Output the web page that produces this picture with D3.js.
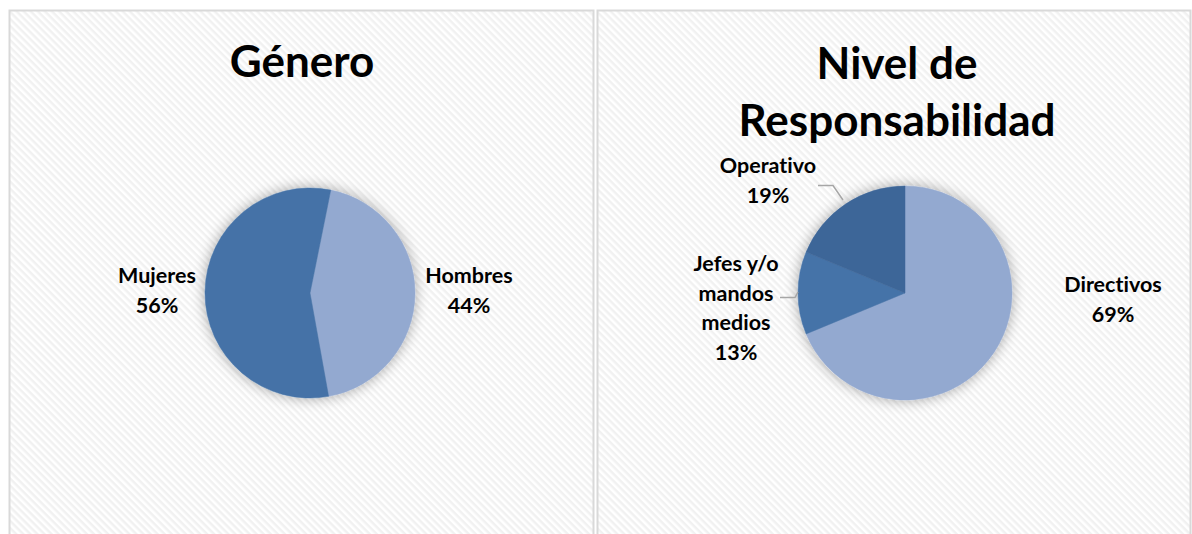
<!DOCTYPE html>
<html><head><meta charset="utf-8">
<script src="https://cdn.jsdelivr.net/npm/d3@7"></script>
<style>body{margin:0;background:#fff}svg{display:block}text{font-family:Lato,"Open Sans",sans-serif;font-weight:bold;fill:#000;font-variant-ligatures:none;font-feature-settings:"liga" 0,"dlig" 0}</style>
</head><body><svg id="c" width="1192" height="534"></svg>
<script>
const genderCats = ["Hombres","Mujeres"];
const genderVals = [44, 56];
const genderLabels = ["44%","56%"];
const levelCats = ["Directivos","Jefes y/o mandos medios","Operativo"];
const levelVals = [68.75, 12.5, 18.75];
const levelLabels = ["69%","13%","19%"];

const svg = d3.select("#c");
const defs = svg.append("defs");
const pat = defs.append("pattern").attr("id","hatch").attr("patternUnits","userSpaceOnUse")
  .attr("width",5).attr("height",5).attr("patternTransform","rotate(45)");
pat.append("rect").attr("width",5).attr("height",5).attr("fill","#fff");
pat.append("rect").attr("width",5).attr("height",2.5).attr("fill","#f1f1f1");
const f = defs.append("filter").attr("id","sh").attr("x","-30%").attr("y","-30%").attr("width","160%").attr("height","160%");
f.append("feGaussianBlur").attr("in","SourceAlpha").attr("stdDeviation",7).attr("result","b");
f.append("feComponentTransfer").attr("in","b").attr("result","b2").append("feFuncA").attr("type","linear").attr("slope",0.35);
const m = f.append("feMerge"); m.append("feMergeNode").attr("in","b2"); m.append("feMergeNode").attr("in","SourceGraphic");

[[9.5,10.5,584,540],[597.5,10.5,593,540]].forEach(p=>{
  svg.append("rect").attr("x",p[0]).attr("y",p[1]).attr("width",p[2]).attr("height",p[3])
    .attr("fill","url(#hatch)").attr("stroke","#d9d9d9").attr("stroke-width",2);
});

function title(lines, cx, y0, dy){
  lines.forEach((l,i)=>svg.append("text").attr("x",cx).attr("y",y0+i*dy).attr("text-anchor","middle")
    .attr("font-size",44).text(l));
}
title(["Género"],302,77,0);
title(["Nivel de","Responsabilidad"],897,79,57);

function pie(vals, colors, cx, cy, r, startDeg){
  const start = startDeg*Math.PI/180;
  const arcs = d3.pie().sort(null).startAngle(start).endAngle(start+2*Math.PI)(vals);
  const g = svg.append("g").attr("transform",`translate(${cx},${cy})`).attr("filter","url(#sh)");
  g.selectAll("path").data(arcs).join("path").attr("d",d3.arc().innerRadius(0).outerRadius(r))
    .attr("fill",(d,i)=>colors[i]).attr("stroke",(d,i)=>colors[i]).attr("stroke-width",0.5);
}
pie(genderVals,["#93a9d0","#4572a7"],310,293,105,11.4);
pie(levelVals,["#93a9d0","#4573a8","#3e6698"],905,293,107,0);

function label(lines, cx, y0){
  lines.forEach((l,i)=>svg.append("text").attr("x",cx).attr("y",y0+i*29.5).attr("text-anchor","middle")
    .attr("font-size",21.5).text(l));
}
label([genderCats[0],genderLabels[0]],469,283);
label([genderCats[1],genderLabels[1]],157,283);
label([levelCats[0],levelLabels[0]],1113,292);
label(["Jefes y/o","mandos","medios",levelLabels[1]],736,271);
label([levelCats[2],levelLabels[2]],768,173);

svg.append("path").attr("d","M818,185.5 L833,185.5 L843,200").attr("fill","none").attr("stroke","#a6a6a6").attr("stroke-width",1.5);
svg.append("path").attr("d","M780,297.5 L795,297.5 L798,292").attr("fill","none").attr("stroke","#a6a6a6").attr("stroke-width",1.5);
</script></body></html>
